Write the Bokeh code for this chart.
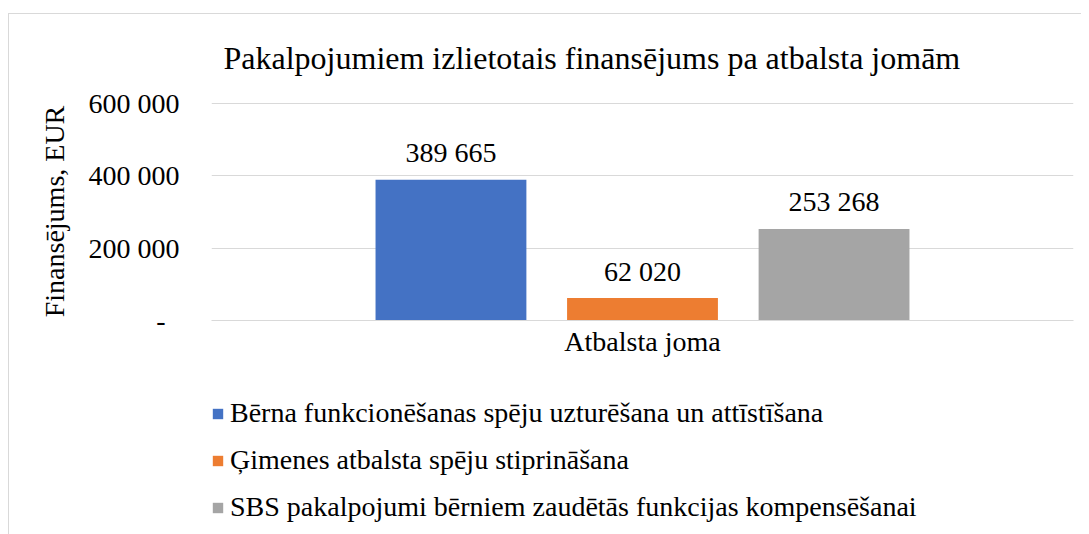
from bokeh.plotting import figure
from bokeh.models import (FactorRange, Range1d, FixedTicker, Legend, LegendItem,
                          ColumnDataSource)
from bokeh.transform import dodge
from bokeh.layouts import column
from bokeh.core.properties import value
from bokeh.embed import file_html
from bokeh.resources import INLINE

# ---- data ----
title_text = "Pakalpojumiem izlietotais finansējums pa atbalsta jomām"
category = ["Atbalsta joma"]
series_names = [
    "Bērna funkcionēšanas spēju uzturēšana un attīstīšana",
    "Ģimenes atbalsta spēju stiprināšana",
    "SBS pakalpojumi bērniem zaudētās funkcijas kompensēšanai",
]
series_values = [389665, 62020, 253268]
series_colors = ["#4472C4", "#ED7D31", "#A5A5A5"]
y_ticks = [0, 200000, 400000, 600000]
y_tick_labels = ["-\u00a0\u00a0", "200 000", "400 000", "600 000"]
y_label = "Finansējums, EUR"

FONT = "Liberation Serif"
FS = "28px"

p = figure(
    x_range=FactorRange(*category, range_padding=0),
    y_range=Range1d(0, 603000),
    frame_width=862, frame_height=218,
    output_backend="svg", toolbar_location=None,
    min_border_left=202, min_border_right=8,
    min_border_top=88, min_border_bottom=50,
    background_fill_color="white", border_fill_color="white",
)
p.outline_line_color = None

# title
p.title.text = title_text
p.title.text_font = FONT
p.title.text_font_size = "32px"
p.title.text_font_style = "normal"
p.title.text_color = "black"
p.title.align = "left"
p.title.offset = 12
p.title.standoff = 49
p.title.vertical_align = "top"

# y axis
yax = p.yaxis[0]
yax.ticker = FixedTicker(ticks=y_ticks)
yax.major_label_overrides = {t: l for t, l in zip(y_ticks, y_tick_labels)}
yax.axis_line_color = None
yax.major_tick_line_color = None
yax.minor_tick_line_color = None
yax.major_tick_out = 0
yax.major_tick_in = 0
yax.minor_tick_out = 0
yax.major_label_standoff = 32
yax.major_label_text_font = FONT
yax.major_label_text_font_size = FS
yax.major_label_text_color = "black"
yax.axis_label = y_label
yax.axis_label_text_font = FONT
yax.axis_label_text_font_size = FS
yax.axis_label_text_font_style = "normal"
yax.axis_label_text_color = "black"
yax.axis_label_standoff = 16

# x axis
xax = p.xaxis[0]
xax.axis_line_color = "#d9d9d9"
xax.major_tick_line_color = None
xax.minor_tick_line_color = None
xax.major_tick_out = 0
xax.major_tick_in = 0
xax.major_label_standoff = 5
xax.major_label_text_font = FONT
xax.major_label_text_font_size = FS
xax.major_label_text_color = "black"

p.xgrid.grid_line_color = None
p.ygrid.grid_line_color = "#d9d9d9"
p.ygrid.grid_line_width = 1
p.ygrid.ticker = FixedTicker(ticks=y_ticks)

offsets = [-0.2222, 0.0, 0.2222]
bar_w = 0.175
for name, val, col, off in zip(series_names, series_values, series_colors, offsets):
    src = ColumnDataSource(dict(x=category, top=[val],
                                lbl=[f"{val:,}".replace(",", " ")]))
    p.vbar(x=dodge("x", off, range=p.x_range), top="top", width=bar_w,
           source=src, fill_color=col, line_color=None)
    p.text(x=dodge("x", off, range=p.x_range), y="top", text="lbl", source=src,
           text_align="center", text_baseline="alphabetic", y_offset=-27,
           text_font=value(FONT), text_font_size=FS, text_color="black")

# ---- legend panel (separate figure below the chart) ----
p2 = figure(width=1072, height=164, output_backend="svg", toolbar_location=None,
            x_range=Range1d(0, 1), y_range=Range1d(0, 1),
            x_axis_location=None, y_axis_location=None, min_border=0,
            background_fill_color="white", border_fill_color="white")
p2.outline_line_color = None
p2.grid.visible = False
p2.title.visible = False
items = []
for name, col in zip(series_names, series_colors):
    # zero-height proxy bars: only their legend swatch is visible
    r = p2.vbar(x=[0.5], top=[0], bottom=[0], width=0.01,
                fill_color=col, line_color=None)
    items.append(LegendItem(label=name, renderers=[r]))

legend = Legend(items=items, location=(0, 11), orientation="vertical",
                glyph_width=13, glyph_height=13, label_standoff=6,
                label_height=32, spacing=15, padding=0, margin=0,
                label_text_font=FONT, label_text_font_size=FS,
                label_text_color="black",
                border_line_color=None, background_fill_alpha=0)
p2.add_layout(legend)

layout = column(p, p2, spacing=0)
layout.margin = (13, 0, 0, 8)
layout.styles = {"border-top": "1px solid #d9d9d9", "border-left": "1px solid #d9d9d9"}

open("out.html", "w").write(file_html(layout, INLINE))
